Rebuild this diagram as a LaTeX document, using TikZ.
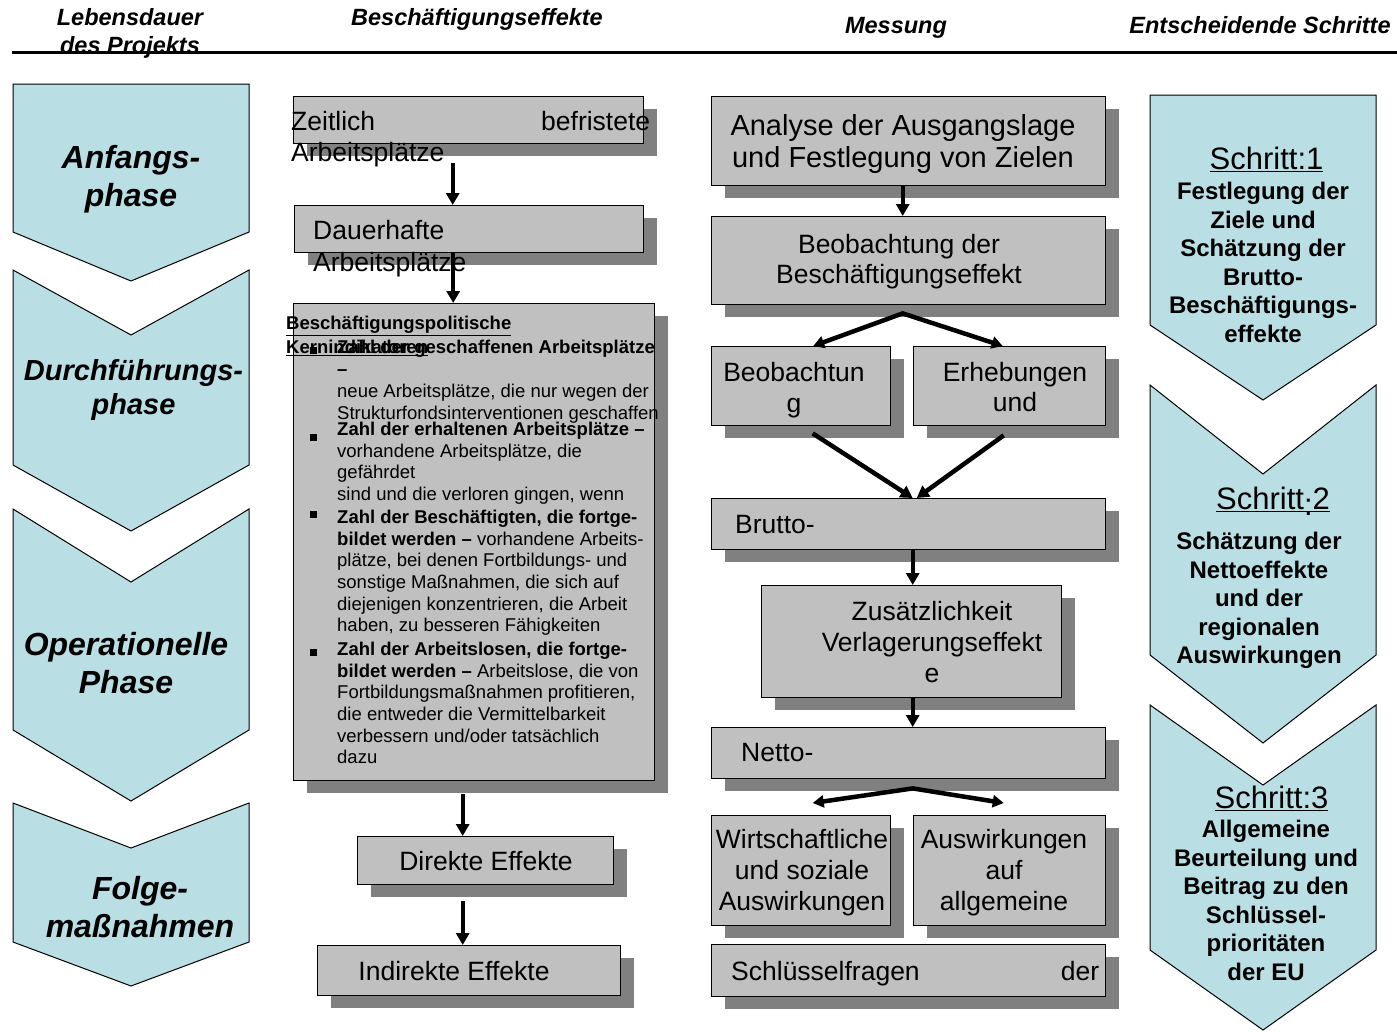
\documentclass[tikz,border=0pt]{standalone}
\usepackage{fontspec}
\setmainfont{Liberation Sans}
\usetikzlibrary{arrows.meta,shadows}

\definecolor{chevblue}{RGB}{185,223,228}
\definecolor{boxgray}{RGB}{192,192,192}
\definecolor{shadowgray}{RGB}{128,128,128}

\tikzset{
  chev/.style={draw=black, line width=1pt, fill=chevblue},
  box/.style={draw=black, line width=1.4pt, fill=boxgray, anchor=north west, inner sep=0pt,
    drop shadow={shadow xshift=13pt, shadow yshift=-12pt, fill=shadowgray, opacity=1}},
  txt/.style={inner sep=0pt, font=\fontsize{26.5}{31}\selectfont, align=center, anchor=base},
  head/.style={inner sep=0pt, font=\bfseries\itshape\fontsize{23.5}{28}\selectfont, align=center, anchor=base},
  phase/.style={inner sep=0pt, font=\bfseries\itshape\fontsize{32}{38}\selectfont, align=center, anchor=base},
  stepno/.style={inner sep=0pt, font=\fontsize{31}{36}\selectfont, anchor=base},
  steptxt/.style={inner sep=0pt, font=\bfseries\fontsize{24}{28.5}\selectfont, align=center, anchor=base},
  small/.style={inner sep=0pt, font=\fontsize{18.5}{21.6}\selectfont, align=left, anchor=base west},
  arr/.style={-{Triangle[length=12pt,width=13pt]}, line width=4pt},
  fork/.style={{Triangle[length=11pt,width=12pt]}-{Triangle[length=11pt,width=12pt]}, line width=4.5pt},
}

\begin{document}
\begin{tikzpicture}[x=1pt, y=-1pt]
	\useasboundingbox (0,0) rectangle (1397,1031);
	
	% Lebensdauer des Projekts
	\draw[chev] (13,84) -- (249,84) -- (249,232) -- (131,281) -- (13,232) -- cycle;
	\draw[chev] (13,270) -- (131,335) -- (249,270) -- (249,465) -- (131,531) -- (13,465) -- cycle;
	\draw[chev] (13,509) -- (131,582) -- (249,509) -- (249,730) -- (131,801) -- (13,730) -- cycle;
	\draw[chev] (13,803) -- (131,848) -- (249,803) -- (249,942) -- (131,986) -- (13,942) -- cycle;
	% base = last line
	\node[phase] (anf) at (131,206.5) {Anfangs-\\phase};
	\node[phase, font=\bfseries\itshape\fontsize{29}{34}\selectfont] (durch) at (133.5,414.5) {Durchführungs-\\phase};
	\node[phase] (oper) at (126,693.5) {Operationelle\\Phase};
	\node[phase] (folge) at (140,937.5) {Folge-\\maßnahmen};
	
	% Entscheidende Schritte
	\draw[chev] (1150,95) -- (1376,95) -- (1376,325) -- (1263,400) -- (1150,325) -- cycle;
	\draw[chev] (1150,385) -- (1263,474) -- (1376,385) -- (1376,655) -- (1263,743) -- (1150,655) -- cycle;
	\draw[chev] (1150,705) -- (1263,785) -- (1376,705) -- (1376,950) -- (1263,1030) -- (1150,950) -- cycle;
	\node[stepno] (s1) at (1266.5,169.5) {\underline{Schritt:1}};
	\node[steptxt] (s1txt) at (1263,342.1) {Festlegung der\\Ziele und\\Schätzung der\\Brutto-\\Beschäftigungs-\\effekte};
	\node[stepno] (s2) at (1273,509.5) {\underline{Schritt\smash{\raisebox{-6pt}{:}}2}};
	\node[steptxt] (s2txt) at (1259,663.6) {Schätzung der\\Nettoeffekte\\und der\\regionalen\\Auswirkungen};
	\node[stepno] (s3) at (1271.5,808.5) {\underline{Schritt:3}};
	\node[steptxt] (s3txt) at (1266,980.1) {Allgemeine\\Beurteilung und\\Beitrag zu den\\Schlüssel-\\prioritäten\\der EU};
	
	% Beschäftigungseffekte
	\node[box, minimum width=350pt, minimum height=47pt] (zeit) at (293,96) {};
	\node[box, minimum width=349pt, minimum height=47pt] (dauer) at (294,205) {};
	\node[box, minimum width=361pt, minimum height=477pt] (kern) at (293,303) {};
	\node[box, minimum width=256pt, minimum height=48pt] (direkt) at (357,836) {};
	\node[box, minimum width=303pt, minimum height=50pt] (indirekt) at (317,945) {};
	
	% Messung
	\node[box, minimum width=394pt, minimum height=89pt] (analyse) at (711,96) {};
	\node[box, minimum width=394pt, minimum height=88pt] (beobder) at (711,216) {};
	\node[box, minimum width=179pt, minimum height=79pt] (beob) at (711,346) {};
	\node[box, minimum width=192pt, minimum height=79pt] (erheb) at (913,346) {};
	\node[box, minimum width=394pt, minimum height=51pt] (brutto) at (711,498) {};
	\node[box, minimum width=300pt, minimum height=112pt] (zus) at (761,585) {};
	\node[box, minimum width=394pt, minimum height=51pt] (netto) at (711,727) {};
	\node[box, minimum width=179pt, minimum height=110pt] (wirt) at (711,815) {};
	\node[box, minimum width=192pt, minimum height=110pt] (ausw) at (913,815) {};
	\node[box, minimum width=394pt, minimum height=52pt] (schluessel) at (711,944) {};
	
	% texts of the boxes (base = last line)
	\node[txt, align=left, anchor=base west] (zeittxt) at (291,161.5) {\makebox[359pt][s]{Zeitlich befristete}\\Arbeitsplätze};
	\node[txt, align=left, anchor=base west, font=\fontsize{26.5}{32}\selectfont] (dauertxt) at (313,271.5) {Dauerhafte\\Arbeitsplätze};
	\node[small, font=\bfseries\fontsize{18.5}{24}\selectfont] (kerntitel) at (286,353.7) {\underline{Beschäftigungspolitische}\\\underline{Kernindikatoren}};
	\node[small, font=\fontsize{18.5}{22}\selectfont] (zahl1) at (337,419.7) {\textbf{Zahl der geschaffenen Arbeitsplätze}\\\textbf{–}\\neue Arbeitsplätze, die nur wegen der\\Strukturfondsinterventionen geschaffen};
	\node[small] (zahl2) at (337,763.7) {\textbf{Zahl der erhaltenen Arbeitsplätze –}\\vorhandene Arbeitsplätze, die\\gefährdet\\sind und die verloren gingen, wenn\\[1.5pt]
		\textbf{Zahl der Beschäftigten, die fortge-}\\\textbf{bildet werden –} vorhandene Arbeits-\\plätze, bei denen Fortbildungs- und\\sonstige Maßnahmen, die sich auf\\diejenigen konzentrieren, die Arbeit\\haben, zu besseren Fähigkeiten\\[2.5pt]
		\textbf{Zahl der Arbeitslosen, die fortge-}\\\textbf{bildet werden –} Arbeitslose, die von\\Fortbildungsmaßnahmen profitieren,\\die entweder die Vermittelbarkeit\\verbessern und/oder tatsächlich\\dazu};
	\fill (309.5,346.5) rectangle ++(7,7);
	\fill (309.5,433.5) rectangle ++(7,7);
	\fill (309.5,510.5) rectangle ++(7,7);
	\fill (309.5,648.5) rectangle ++(7,7);
	\node[txt] (direkttxt) at (486,870.5) {Direkte Effekte};
	\node[txt] (indirekttxt) at (454,980.5) {Indirekte Effekte};
	
	\node[txt, font=\fontsize{29}{32}\selectfont] (analysetxt) at (903,167.5) {Analyse der Ausgangslage\\und Festlegung von Zielen};
	\node[txt, font=\fontsize{26.5}{30}\selectfont] (beobdertxt) at (899,283.5) {Beobachtung der\\Beschäftigungseffekt};
	\node[txt] (beobtxt) at (794,412.5) {Beobachtun\\g};
	\node[txt, font=\fontsize{26.5}{30}\selectfont] (erhebtxt) at (1015,411.5) {Erhebungen\\und};
	\node[txt, anchor=base west] (bruttotxt) at (735,533.5) {Brutto-};
	\node[txt] (zustxt) at (932,682.5) {Zusätzlichkeit\\Verlagerungseffekt\\e};
	\node[txt, anchor=base west] (nettotxt) at (741,761.5) {Netto-};
	\node[txt] (wirttxt) at (802,910.5) {Wirtschaftliche\\und soziale\\Auswirkungen};
	\node[txt] (auswtxt) at (1004,910.5) {Auswirkungen\\auf\\allgemeine};
	\node[txt, anchor=base west] (schluesseltxt) at (731,980.5) {\makebox[368pt][s]{Schlüsselfragen der}};
	
	% arrows
	\draw[arr] ([xshift=-16pt,yshift=-19pt]zeit.south) -- ([xshift=-16pt]zeit.south |- dauer.north);
	\draw[arr] ([xshift=-16pt]dauer.south) -- ([xshift=-16pt]dauer.south |- kern.north);
	\draw[arr] ([xshift=-11.5pt,yshift=-13pt]kern.south) -- ([xshift=-11.5pt]kern.south |- direkt.north);
	\draw[arr] ([xshift=-23pt,yshift=-16pt]direkt.south) -- ([xshift=-23pt]direkt.south |- indirekt.north);
	
	\draw[arr] ([xshift=-6pt]analyse.south) -- ([xshift=-6pt]analyse.south |- beobder.north);
	\coordinate (split1) at ([xshift=-6pt,yshift=-8pt]beobder.south);
	\draw[fork] ([xshift=12pt]beob.north) -- (split1) -- ([xshift=-7pt]erheb.north);
	\draw[arr, line width=4.5pt] ([xshift=11.5pt,yshift=-7pt]beob.south) -- ([xshift=4pt]brutto.north);
	\draw[arr, line width=4.5pt] ([xshift=-6pt,yshift=-9pt]erheb.south) -- ([xshift=8pt]brutto.north);
	\draw[arr] ([xshift=4pt]brutto.south) -- ([xshift=4pt]brutto.south |- zus.north);
	\draw[arr] ([xshift=1pt]zus.south) -- ([xshift=1pt]zus.south |- netto.north);
	\coordinate (split2) at ([xshift=4pt,yshift=-9pt]netto.south);
	\draw[fork] ([xshift=11.5pt,yshift=12pt]wirt.north) -- (split2) -- ([xshift=-6pt,yshift=12pt]ausw.north);
	
	% headings
	\node[head] (h1) at (130,53.3) {Lebensdauer\\des Projekts};
	\node[head] (h2) at (477,25.3) {Beschäftigungseffekte};
	\node[head] (h3) at (896,33.3) {Messung};
	\node[head] (h4) at (1260,33.3) {Entscheidende Schritte};
	\draw[line width=3pt] (12,52) -- (1397,52);
	
\end{tikzpicture}
\end{document}
